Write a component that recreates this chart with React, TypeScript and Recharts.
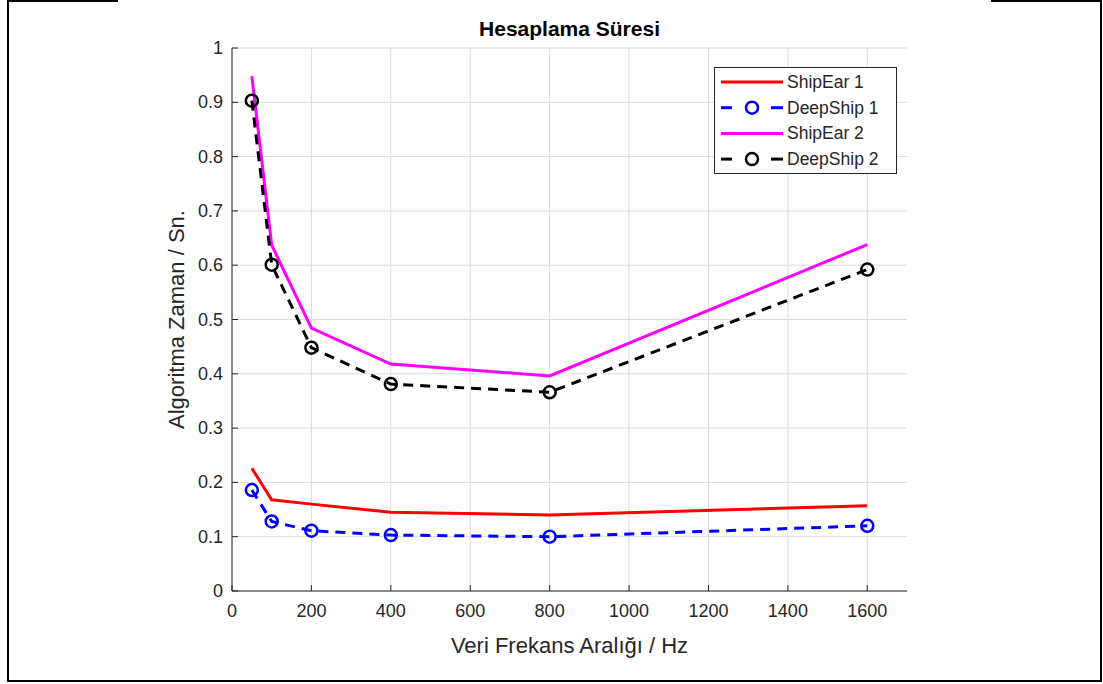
import React from "react";
import { LineChart, Line, XAxis, YAxis, CartesianGrid, Legend } from "recharts";

const freqs = [50, 100, 200, 400, 800, 1600];
const shipEar1 = [0.226, 0.168, 0.16, 0.145, 0.14, 0.157];
const deepShip1 = [0.186, 0.128, 0.111, 0.103, 0.1, 0.12];
const shipEar2 = [0.948, 0.637, 0.484, 0.418, 0.396, 0.638];
const deepShip2 = [0.903, 0.601, 0.448, 0.381, 0.366, 0.592];
const xTicks = [0, 200, 400, 600, 800, 1000, 1200, 1400, 1600];
const yTicks = [0, 0.1, 0.2, 0.3, 0.4, 0.5, 0.6, 0.7, 0.8, 0.9, 1];

const series = [
  { key: "se1", name: "ShipEar 1", color: "#ff0000", dash: undefined, marker: false },
  { key: "ds1", name: "DeepShip 1", color: "#0000ff", dash: "10 7", marker: true },
  { key: "se2", name: "ShipEar 2", color: "#ff00ff", dash: undefined, marker: false },
  { key: "ds2", name: "DeepShip 2", color: "#000000", dash: "10 7", marker: true },
];

const data = freqs.map((f, i) => ({
  x: f,
  se1: shipEar1[i],
  ds1: deepShip1[i],
  se2: shipEar2[i],
  ds2: deepShip2[i],
}));

const FONT = "'Liberation Sans', Arial, Helvetica, sans-serif";
const AX = "#262626";
const TICK_LEN = 6;

// tick props give the label anchor, which sits 8px off the axis line
const XTick = (props: any) => {
  const { x, y, payload } = props;
  return (
    <g>
      <line x1={x} x2={x} y1={y - 8} y2={y - 8 - TICK_LEN} stroke={AX} strokeWidth={1} />
      <text x={x} y={y + 18} textAnchor="middle" fill={AX} fontSize={18} fontFamily={FONT}>
        {payload.value}
      </text>
    </g>
  );
};

const YTick = (props: any) => {
  const { x, y, payload } = props;
  return (
    <g>
      <line x1={x + 8} x2={x + 8 + TICK_LEN} y1={y} y2={y} stroke={AX} strokeWidth={1} />
      <text x={x - 1} y={y + 6} textAnchor="end" fill={AX} fontSize={18} fontFamily={FONT}>
        {payload.value}
      </text>
    </g>
  );
};

const TopTick = (props: any) => {
  const { x, y } = props;
  return <line x1={x} x2={x} y1={y + 8} y2={y + 8 + TICK_LEN} stroke={AX} strokeWidth={1} />;
};

const RightTick = (props: any) => {
  const { x, y } = props;
  return <line x1={x - 8} x2={x - 8 - TICK_LEN} y1={y} y2={y} stroke={AX} strokeWidth={1} />;
};

const renderLegend = () => (
  <div
    style={{
      border: "1px solid #262626",
      background: "#fff",
      width: 183,
      height: 107,
      boxSizing: "border-box",
    }}
  >
    <svg width={181} height={105} style={{ display: "block" }}>
      {series.map((s, i) => {
        const cy = 14 + i * 25.7;
        return (
          <g key={s.key}>
            {s.dash ? (
              <>
                <line x1={6} x2={17} y1={cy} y2={cy} stroke={s.color} strokeWidth={3} />
                <line x1={56} x2={68} y1={cy} y2={cy} stroke={s.color} strokeWidth={3} />
              </>
            ) : (
              <line x1={6} x2={68} y1={cy} y2={cy} stroke={s.color} strokeWidth={3} />
            )}
            {s.marker && <circle cx={37} cy={cy} r={6} fill="none" stroke={s.color} strokeWidth={2.5} />}
            <text x={72} y={cy + 6} fontSize={17.5} fill={AX} fontFamily={FONT}>
              {s.name}
            </text>
          </g>
        );
      })}
    </svg>
  </div>
);

export default function App() {
  return (
    <div style={{ position: "absolute", left: 0, top: 0, width: 1103, height: 684, background: "#fff" }}>
      <svg width={1103} height={684} style={{ position: "absolute", left: 0, top: 0 }}>
        <polyline points="118,1 8,1 8,681 1101,681 1101,1 991,1" fill="none" stroke="#000" strokeWidth={2} />
      </svg>
      <div style={{ position: "absolute", left: 0, top: 0 }}>
        <LineChart width={1103} height={684} data={data} margin={{ top: 48, right: 196, bottom: 63, left: 172 }}>
          <CartesianGrid stroke="#dcdcdc" strokeWidth={1} horizontalValues={yTicks} verticalValues={xTicks} />
          <XAxis
            dataKey="x"
            type="number"
            domain={[0, 1700]}
            ticks={xTicks}
            allowDataOverflow
            stroke={AX}
            tickLine={false}
            tick={<XTick />}
            height={30}
            interval={0}
            label={{
              value: "Veri Frekans Aralığı / Hz",
              position: "insideBottom",
              offset: -32,
              fill: AX,
              fontSize: 22,
              fontFamily: FONT,
            }}
          />
          <XAxis
            xAxisId="top"
            orientation="top"
            dataKey="x"
            type="number"
            domain={[0, 1700]}
            ticks={xTicks}
            allowDataOverflow
            stroke={AX}
            tickLine={false}
            tick={<TopTick />}
            height={0}
            interval={0}
          />
          <YAxis
            type="number"
            domain={[0, 1]}
            ticks={yTicks}
            stroke={AX}
            tickLine={false}
            tick={<YTick />}
            width={60}
            interval={0}
            label={{
              value: "Algoritma Zaman / Sn.",
              angle: -90,
              position: "insideLeft",
              offset: 0,
              dx: 4,
              fill: AX,
              fontSize: 22,
              fontFamily: FONT,
              style: { textAnchor: "middle" },
            }}
          />
          <YAxis
            yAxisId="right"
            orientation="right"
            type="number"
            domain={[0, 1]}
            ticks={yTicks}
            stroke={AX}
            tickLine={false}
            tick={<RightTick />}
            width={0}
            interval={0}
          />
          {series.map((s) => (
            <Line
              key={s.key}
              dataKey={s.key}
              name={s.name}
              type="linear"
              stroke={s.color}
              strokeWidth={3}
              strokeDasharray={s.dash}
              dot={s.marker ? { r: 6, fill: "none", stroke: s.color, strokeWidth: 2.5, strokeDasharray: "" } : false}
              activeDot={false}
              isAnimationActive={false}
            />
          ))}
          <Legend
            content={renderLegend}
            layout="horizontal"
            align="center"
            verticalAlign="middle"
            wrapperStyle={{ position: "absolute", left: 714, top: 67, width: 183 }}
          />
        </LineChart>
      </div>
      <div
        style={{
          position: "absolute",
          left: 232,
          width: 675,
          top: 17,
          textAlign: "center",
          fontFamily: FONT,
          fontWeight: "bold",
          fontSize: 21,
          color: "#000",
        }}
      >
        Hesaplama Süresi
      </div>
    </div>
  );
}
